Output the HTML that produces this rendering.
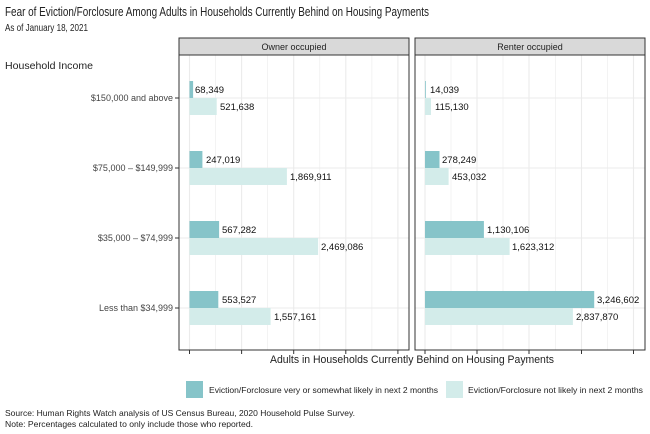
<!DOCTYPE html>
<html><head><meta charset="utf-8"><style>
body{margin:0;background:#fff}
svg{display:block;font-family:"Liberation Sans",sans-serif}
</style></head><body>
<svg width="650" height="434" viewBox="0 0 650 434" xmlns="http://www.w3.org/2000/svg">
<text x="5" y="16" font-size="13" fill="#222" textLength="424" lengthAdjust="spacingAndGlyphs">Fear of Eviction/Forclosure Among Adults in Households Currently Behind on Housing Payments</text>
<text x="5" y="31" font-size="10.5" fill="#222" textLength="83" lengthAdjust="spacingAndGlyphs">As of January 18, 2021</text>
<text x="5" y="69" font-size="10.5" fill="#222" textLength="88" lengthAdjust="spacingAndGlyphs">Household Income</text>

<!-- Owner panel -->
<g>
<rect x="179" y="55" width="230" height="295" fill="#fff"/>
<g stroke="#ebebeb" stroke-width="0.6">
<line x1="215.6" y1="55" x2="215.6" y2="350"/><line x1="267.7" y1="55" x2="267.7" y2="350"/><line x1="319.8" y1="55" x2="319.8" y2="350"/><line x1="371.9" y1="55" x2="371.9" y2="350"/>
</g>
<g stroke="#ebebeb" stroke-width="1.1">
<line x1="189.5" y1="55" x2="189.5" y2="350"/><line x1="241.6" y1="55" x2="241.6" y2="350"/><line x1="293.7" y1="55" x2="293.7" y2="350"/><line x1="345.8" y1="55" x2="345.8" y2="350"/><line x1="397.9" y1="55" x2="397.9" y2="350"/>
<line x1="179" y1="98" x2="409" y2="98"/><line x1="179" y1="168" x2="409" y2="168"/><line x1="179" y1="238" x2="409" y2="238"/><line x1="179" y1="308" x2="409" y2="308"/>
</g>
<g fill="#86c4c9">
<rect x="189.5" y="81" width="3.6" height="17"/>
<rect x="189.5" y="151" width="12.9" height="17"/>
<rect x="189.5" y="221" width="29.6" height="17"/>
<rect x="189.5" y="291" width="28.8" height="17"/>
</g>
<g fill="#d3ecea">
<rect x="189.5" y="98" width="27.2" height="17"/>
<rect x="189.5" y="168" width="97.4" height="17"/>
<rect x="189.5" y="238" width="128.6" height="17"/>
<rect x="189.5" y="308" width="81.1" height="17"/>
</g>
<g font-size="9.5" fill="#111">
<text x="195" y="93">68,349</text><text x="220" y="110">521,638</text>
<text x="206" y="163">247,019</text><text x="290" y="180">1,869,911</text>
<text x="222" y="233">567,282</text><text x="321" y="250">2,469,086</text>
<text x="222" y="303">553,527</text><text x="274" y="320">1,557,161</text>
</g>
<rect x="179" y="55" width="230" height="295" fill="none" stroke="#333" stroke-width="1"/>
<rect x="179" y="38" width="230" height="17" fill="#d9d9d9" stroke="#333" stroke-width="1"/>
<text x="294" y="50" font-size="9" fill="#222" text-anchor="middle">Owner occupied</text>
</g>

<!-- Renter panel -->
<g>
<g stroke="#ebebeb" stroke-width="0.6">
<line x1="451" y1="55" x2="451" y2="350"/><line x1="503" y1="55" x2="503" y2="350"/><line x1="555.5" y1="55" x2="555.5" y2="350"/><line x1="607.5" y1="55" x2="607.5" y2="350"/>
</g>
<g stroke="#ebebeb" stroke-width="1.1">
<line x1="425" y1="55" x2="425" y2="350"/><line x1="477" y1="55" x2="477" y2="350"/><line x1="529" y1="55" x2="529" y2="350"/><line x1="581.5" y1="55" x2="581.5" y2="350"/><line x1="633.5" y1="55" x2="633.5" y2="350"/>
<line x1="415" y1="98" x2="645" y2="98"/><line x1="415" y1="168" x2="645" y2="168"/><line x1="415" y1="238" x2="645" y2="238"/><line x1="415" y1="308" x2="645" y2="308"/>
</g>
<g fill="#86c4c9">
<rect x="425" y="81" width="0.8" height="17"/>
<rect x="425" y="151" width="14.5" height="17"/>
<rect x="425" y="221" width="58.9" height="17"/>
<rect x="425" y="291" width="169.2" height="17"/>
</g>
<g fill="#d3ecea">
<rect x="425" y="98" width="6" height="17"/>
<rect x="425" y="168" width="23.6" height="17"/>
<rect x="425" y="238" width="84.6" height="17"/>
<rect x="425" y="308" width="147.9" height="17"/>
</g>
<g font-size="9.5" fill="#111">
<text x="430" y="93">14,039</text><text x="435" y="110">115,130</text>
<text x="442" y="163">278,249</text><text x="452" y="180">453,032</text>
<text x="487" y="233">1,130,106</text><text x="512" y="250">1,623,312</text>
<text x="597" y="303">3,246,602</text><text x="576" y="320">2,837,870</text>
</g>
<rect x="415" y="55" width="230" height="295" fill="none" stroke="#333" stroke-width="1"/>
<rect x="415" y="38" width="230" height="17" fill="#d9d9d9" stroke="#333" stroke-width="1"/>
<text x="530" y="50" font-size="9" fill="#222" text-anchor="middle">Renter occupied</text>
</g>

<!-- y ticks/labels -->
<g stroke="#333" stroke-width="1">
<line x1="175" y1="98" x2="179" y2="98"/><line x1="175" y1="168" x2="179" y2="168"/><line x1="175" y1="238" x2="179" y2="238"/><line x1="175" y1="308" x2="179" y2="308"/>
<line x1="189.5" y1="350" x2="189.5" y2="354"/><line x1="241.6" y1="350" x2="241.6" y2="354"/><line x1="293.7" y1="350" x2="293.7" y2="354"/><line x1="345.8" y1="350" x2="345.8" y2="354"/><line x1="397.9" y1="350" x2="397.9" y2="354"/>
<line x1="425" y1="350" x2="425" y2="354"/><line x1="477" y1="350" x2="477" y2="354"/><line x1="529" y1="350" x2="529" y2="354"/><line x1="581.5" y1="350" x2="581.5" y2="354"/><line x1="633.5" y1="350" x2="633.5" y2="354"/>
</g>
<g font-size="9" fill="#444" text-anchor="end">
<text x="173" y="101">$150,000 and above</text>
<text x="173" y="171">$75,000 – $149,999</text>
<text x="173" y="241">$35,000 – $74,999</text>
<text x="173" y="311">Less than $34,999</text>
</g>
<text x="412" y="363" font-size="11" fill="#222" text-anchor="middle" textLength="284" lengthAdjust="spacingAndGlyphs">Adults in Households Currently Behind on Housing Payments</text>

<!-- legend -->
<rect x="186" y="381" width="17" height="17" fill="#86c4c9"/>
<text x="209" y="393" font-size="8.5" fill="#222" textLength="229" lengthAdjust="spacingAndGlyphs">Eviction/Forclosure very or somewhat likely in next 2 months</text>
<rect x="446" y="381" width="17" height="17" fill="#d3ecea"/>
<text x="468" y="393" font-size="8.5" fill="#222" textLength="175" lengthAdjust="spacingAndGlyphs">Eviction/Forclosure not likely in next 2 months</text>

<text x="5" y="416" font-size="8.5" fill="#222" textLength="350" lengthAdjust="spacingAndGlyphs">Source: Human Rights Watch analysis of US Census Bureau, 2020 Household Pulse Survey.</text>
<text x="5" y="427" font-size="8.5" fill="#222" textLength="248" lengthAdjust="spacingAndGlyphs">Note: Percentages calculated to only include those who reported.</text>
</svg>
</body></html>
